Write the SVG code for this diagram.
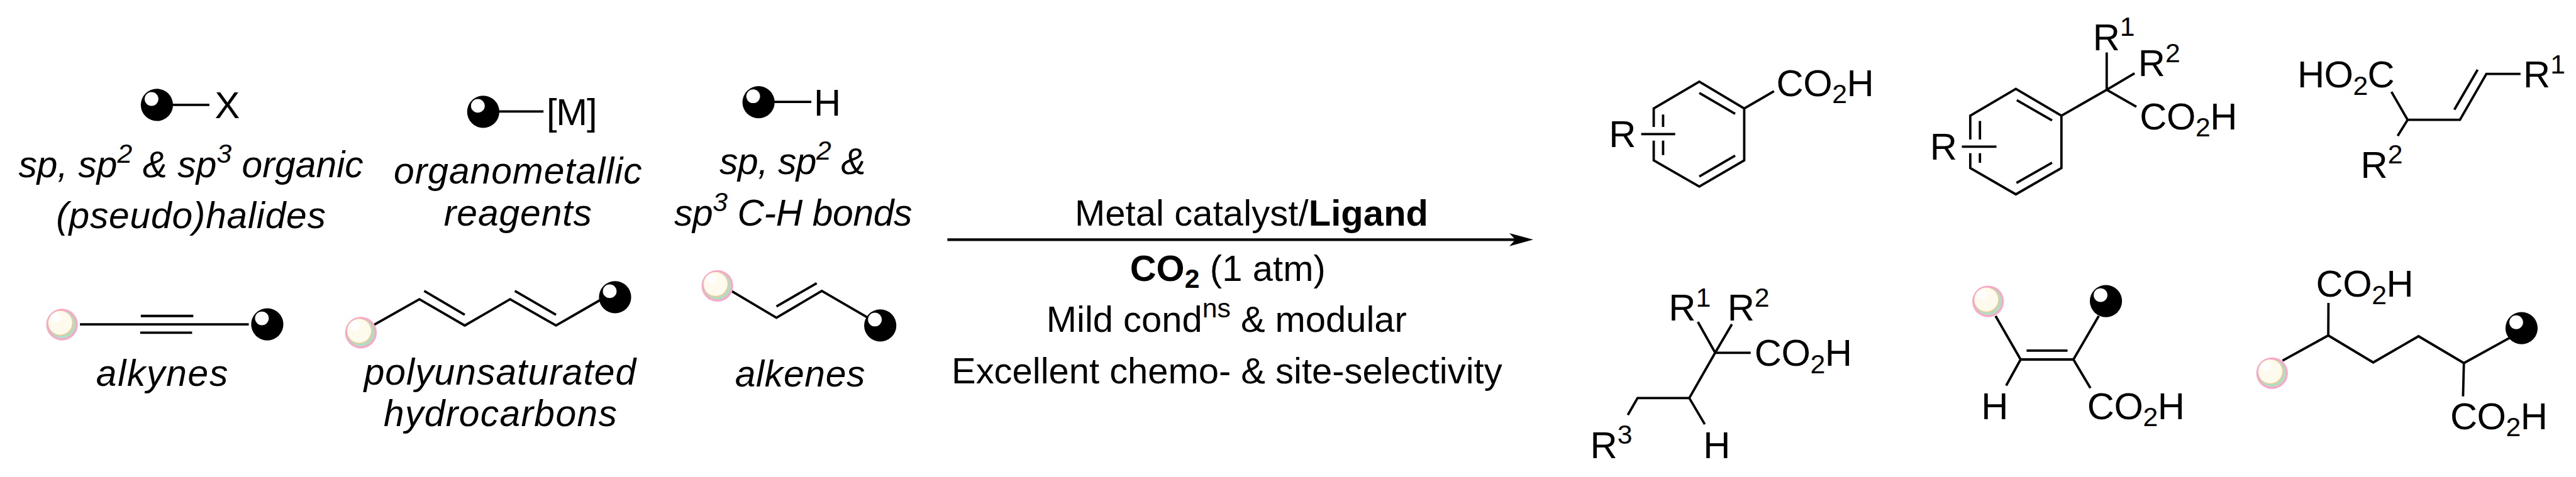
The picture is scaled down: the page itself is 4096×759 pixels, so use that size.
<svg xmlns="http://www.w3.org/2000/svg" width="4096" height="759" viewBox="0 0 4096 759">
<style>
text{font-family:"Liberation Sans",Arial,sans-serif;font-size:63px;fill:#000}
.i{font-style:italic;font-size:62px}
.c{font-size:61px}
.b{font-weight:bold}
.u{font-size:45px}
path,line{fill:none;stroke:#000;stroke-width:4;stroke-linejoin:miter;stroke-linecap:butt}
.arrow{stroke-width:4.5}
</style>
<defs>
<g id="blk"><circle r="27" fill="#000"/><circle cx="-9" cy="-10" r="11.5" fill="#fff"/></g>
<g id="pnk"><circle r="26.5" fill="#f8a8c8"/><circle r="23" fill="#b4dcc2"/><circle cx="-2.5" cy="-2.5" r="21" fill="#f3c88e"/><circle cx="-3" cy="-3" r="20" fill="#fffaee"/><circle cx="-10" cy="-12" r="8" fill="#fff"/></g>
<marker id="head" markerUnits="userSpaceOnUse" markerWidth="42" markerHeight="24" refX="10" refY="12" orient="auto"><path d="M0 1L40 12L0 23L10 12Z" style="fill:#000;stroke:none"/></marker>
</defs>
<rect width="4096" height="759" fill="#fff"/>
<g transform="scale(0.9486)">
<g id="connectors"><line class="arrow" x1="1588" y1="402" x2="2540" y2="402" marker-end="url(#head)"/></g>

<g id="halides">
<line x1="288" y1="176" x2="351" y2="176"/><use href="#blk" x="263" y="176"/>
<text x="360" y="198">X</text>
<text class="i" x="31" y="297" textLength="578">sp, sp<tspan class="u" dy="-24">2</tspan><tspan dy="24"> &amp; sp</tspan><tspan class="u" dy="-24">3</tspan><tspan dy="24"> organic</tspan></text>
<text class="i" x="94" y="383" textLength="452">(pseudo)halides</text>
</g>

<g id="organometallics">
<line x1="836" y1="187" x2="911" y2="187"/><use href="#blk" x="810" y="187.5"/>
<text x="916" y="210" textLength="85">[M]</text>
<text class="i" x="660" y="308" textLength="416">organometallic</text>
<text class="i" x="744" y="378" textLength="248">reagents</text>
</g>

<g id="ch-bonds">
<line x1="1296" y1="171" x2="1360" y2="171"/><use href="#blk" x="1271.5" y="171.5"/>
<text x="1364" y="194">H</text>
<text class="i" x="1206" y="292" textLength="245">sp, sp<tspan class="u" dy="-24">2</tspan><tspan dy="24"> &amp;</tspan></text>
<text class="i" x="1130" y="378" textLength="399">sp<tspan class="u" dy="-24">3</tspan><tspan dy="24"> C-H bonds</tspan></text>
</g>

<g id="alkyne">
<path d="M134 544H417M236 530H324M235 558H322"/>
<use href="#pnk" x="104" y="544.5"/><use href="#blk" x="448" y="544"/>
<text class="i" x="161" y="647" textLength="221">alkynes</text>
</g>

<g id="polyene">
<path d="M625 546L703 502L779 546L855 502L932 546L1010 501M711 488L779 528M863 488L932 528"/>
<use href="#pnk" x="605" y="558"/><use href="#blk" x="1031" y="498.5"/>
<text class="i" x="610" y="645" textLength="456">polyunsaturated</text>
<text class="i" x="643" y="715" textLength="391">hydrocarbons</text>
</g>

<g id="alkene">
<path d="M1224 487L1301.5 533L1377.5 488L1455 533M1301.5 514L1369 475"/>
<use href="#pnk" x="1202.5" y="479.5"/><use href="#blk" x="1475.5" y="546"/>
<text class="i" x="1232" y="648" textLength="218">alkenes</text>
</g>

<g id="conditions">
<text class="c" x="1801.5" y="378" textLength="592.5">Metal catalyst/<tspan class="b">Ligand</tspan></text>
<text class="c" x="1894" y="471" textLength="328"><tspan class="b">CO</tspan><tspan class="b u" dy="12">2</tspan><tspan dy="-12"> (1 atm)</tspan></text>
<text class="c" x="1754" y="557" textLength="604">Mild cond<tspan class="u" dy="-25">ns</tspan><tspan dy="25"> &amp; modular</tspan></text>
<text class="c" x="1595" y="643" textLength="923">Excellent chemo- &amp; site-selectivity</text>
</g>

<g id="product-1">
<path d="M2772 213V182L2848.4 137L2923.7 182V269L2848.4 313L2772 269V236M2848.4 156L2908.5 191M2908.5 261L2848.4 296M2787.7 192V213M2787.7 236V260M2751 225H2808M2923.7 182L2973.6 153"/>
<text x="2697" y="247">R</text>
<text x="2977.5" y="161" textLength="163.5">CO<tspan class="u" dy="12">2</tspan><tspan dy="-12">H</tspan></text>
</g>

<g id="product-2">
<path d="M3302.6 234V194L3379 149L3455.4 194V282L3379 326L3302.6 282V257M3380.6 168L3439.7 202M3439.7 273L3380 307M3318.8 203V234M3318.8 257V273M3288.5 246H3346.5M3455.4 194L3531.3 150.7V88M3531.3 150.7L3578 123M3531.3 150.7L3581 179"/>
<text x="3235" y="268">R</text>
<text x="3508" y="84">R<tspan class="u" dy="-24">1</tspan></text>
<text x="3584" y="128">R<tspan class="u" dy="-24">2</tspan></text>
<text x="3586.7" y="217" textLength="163.5">CO<tspan class="u" dy="12">2</tspan><tspan dy="-12">H</tspan></text>
</g>

<g id="product-3">
<path d="M4008.6 154L4035.7 201H4123.4L4167.7 124H4225M4114 184L4153 117M4035.7 201L4019 228"/>
<text x="3851" y="147" textLength="163">HO<tspan class="u" dy="12">2</tspan><tspan dy="-12">C</tspan></text>
<text x="3957" y="298">R<tspan class="u" dy="-24">2</tspan></text>
<text x="4229.5" y="147">R<tspan class="u" dy="-24">1</tspan></text>
</g>

<g id="product-4">
<path d="M2846 540L2875 591.7L2903 544M2875 591.7H2934.6M2875 591.7L2831.6 667.7H2744.9L2728.6 696M2831.6 667.7L2857.6 711.7"/>
<text x="2797" y="538">R<tspan class="u" dy="-24">1</tspan></text>
<text x="2895.5" y="538">R<tspan class="u" dy="-24">2</tspan></text>
<text x="2941" y="614" textLength="163.5">CO<tspan class="u" dy="12">2</tspan><tspan dy="-12">H</tspan></text>
<text x="2665.6" y="768">R<tspan class="u" dy="-24">3</tspan></text>
<text x="2855" y="768">H</text>
</g>

<g id="product-5">
<path d="M3345 530L3387 603H3475.5L3518 530M3397 588H3465.7M3387 603L3362.8 646.7M3475.5 603L3504 651"/>
<use href="#pnk" x="3332.5" y="505.5"/><use href="#blk" x="3530" y="505"/>
<text x="3321" y="703">H</text>
<text x="3498.6" y="703" textLength="163.5">CO<tspan class="u" dy="12">2</tspan><tspan dy="-12">H</tspan></text>
</g>

<g id="product-6">
<path d="M3826 605L3902.7 562.7L3978 608L4054 564L4130 609L4210 565M3902.7 562.7L3903 508M4130 609L4128.6 665"/>
<use href="#pnk" x="3808.5" y="626"/><use href="#blk" x="4226.7" y="550.5"/>
<text x="3882" y="498" textLength="163.5">CO<tspan class="u" dy="12">2</tspan><tspan dy="-12">H</tspan></text>
<text x="4107" y="720" textLength="163.5">CO<tspan class="u" dy="12">2</tspan><tspan dy="-12">H</tspan></text>
</g>
</g>
</svg>
